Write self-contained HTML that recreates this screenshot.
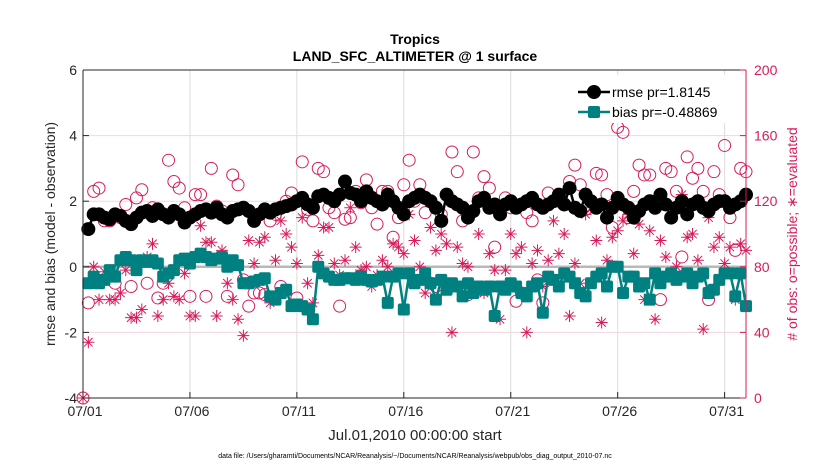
<!DOCTYPE html>
<html><head><meta charset="utf-8"><style>
body{margin:0;background:#fff;font-family:"Liberation Sans",sans-serif}
</style></head><body>
<svg width="830" height="470" xmlns="http://www.w3.org/2000/svg" font-family="Liberation Sans, sans-serif">
<g id="grid"></g>
<g id="marks"></g>
<g id="axes"></g>
</svg>
<script>
const rmse=[null,1.15,1.6,1.6,1.5,1.45,1.6,1.55,1.4,1.3,1.5,1.65,1.7,1.55,1.75,1.6,1.5,1.7,1.6,1.35,1.5,1.6,1.7,1.75,1.65,1.8,1.6,1.5,1.7,1.75,1.8,1.7,1.4,1.6,1.75,1.65,1.75,1.8,1.85,1.9,2.0,2.1,1.9,1.8,2.15,2.2,2.1,2.0,2.2,2.6,2.25,2.2,2.0,2.3,2.1,2.0,1.9,2.2,2.0,1.8,1.6,2.0,2.1,2.2,2.1,2.0,1.8,1.4,2.2,2.0,1.9,1.8,1.5,1.7,2.0,2.1,1.8,1.9,1.6,1.9,2.0,1.8,1.9,2.0,2.1,1.9,1.8,1.9,2.0,2.2,1.9,2.4,1.8,1.7,2.2,2.0,1.8,1.9,1.5,1.8,2.1,1.9,1.8,1.5,1.7,1.9,2.0,1.8,2.2,1.9,1.5,1.8,2.0,1.6,1.9,2.0,1.8,1.7,1.9,2.0,2.0,1.8,1.9,2.0,2.2];
const bias=[null,-0.5,-0.3,-0.5,-0.4,-0.1,-0.3,0.2,0.3,0.2,-0.1,0.2,0.15,0.2,0.1,-0.3,-0.2,-0.1,0.2,0.25,0.1,0.3,0.4,0.3,0.2,0.25,0.3,0.0,0.2,0.05,-0.5,-0.5,-0.45,-0.4,-0.35,-0.9,-1.0,-0.8,-0.7,-1.2,-1.15,-1.2,-1.3,-1.6,0.0,-0.2,-0.3,-0.4,-0.4,-0.35,-0.35,-0.4,-0.3,-0.4,-0.45,-0.4,-0.3,-1.1,-0.3,-0.2,-1.3,-0.2,-0.5,-0.4,-0.2,-0.5,-1.0,-0.4,-0.7,-0.5,-0.6,-0.9,-0.5,-0.8,-0.6,-0.7,-0.6,-1.5,-0.6,-0.7,-0.5,-0.6,-0.8,-0.9,-0.6,-0.5,-1.4,-0.3,-0.4,-0.6,-0.2,-0.3,-0.5,-0.8,-0.9,-0.5,-0.3,-0.2,-0.6,0.0,0.0,-0.8,-0.3,-0.3,-0.6,-0.5,-1.0,-0.2,-0.5,-0.3,-0.2,-0.4,-0.3,-0.2,-0.5,-0.3,-0.2,-0.8,-0.7,-0.4,-0.2,-0.2,-0.9,-0.2,-1.2];
const possible=[0,58,126,128,108,108,70,110,118,68,122,127,70,116,61,70,145,132,128,116,62,124,124,62,140,117,114,62,136,130,72,56,64,64,63,108,112,68,120,125,61,144,115,108,140,138,116,113,56,109,110,126,119,133,116,106,126,126,98,110,130,145,120,130,113,70,68,112,124,150,138,108,63,150,122,135,128,92,112,122,116,59,64,113,108,72,58,125,120,120,118,132,142,130,115,120,137,136,124,104,165,162,110,126,142,136,136,120,60,140,138,126,86,147,134,140,126,60,138,124,154,110,90,140,138];
const evaluated=[0,34,80,60,77,60,60,64,78,49,49,54,86,94,50,60,70,62,60,76,50,50,105,95,95,50,90,70,60,48,38,96,82,95,98,58,84,108,100,92,82,110,70,58,87,104,104,82,75,84,116,92,78,80,68,75,84,80,94,92,88,112,96,80,64,104,90,100,94,40,92,82,80,68,100,64,88,78,48,78,100,88,92,40,82,90,68,84,108,88,100,50,82,70,112,116,96,46,84,98,102,108,112,88,106,60,102,48,96,86,110,80,124,98,100,84,42,110,92,98,82,92,60,94,90];
const ytL=[-4,-2,0,2,4,6], ytR=[0,40,80,120,160,200], xt=[0,5,10,15,20,25,30], xtl=['07/01','07/06','07/11','07/16','07/21','07/26','07/31'];
const L=83,R=746,T=70,B=398,XMAX=31;
const X=d=>L+(R-L)*d/XMAX, YL=v=>B-(B-T)*(v+4)/10, YR=v=>B-(B-T)*v/200;
const NS='http://www.w3.org/2000/svg';
function mk(p,t,a){const e=document.createElementNS(NS,t);for(const k in a)e.setAttribute(k,a[k]);p.appendChild(e);return e;}
const g=document.getElementById('grid'),m=document.getElementById('marks'),ax=document.getElementById('axes');
xt.forEach(d=>{const l=mk(g,'line',{x1:X(d),x2:X(d),y1:T,y2:B,stroke:'#dcdcdc','stroke-width':1});

});
ytR.forEach(v=>{const l=mk(g,'line',{x1:L,x2:R,y1:YR(v),y2:YR(v),stroke:'#f3d6df','stroke-width':1});

});
const zl=mk(g,'line',{x1:L,x2:R,y1:YL(0),y2:YL(0),stroke:'#b8b8b8','stroke-width':2.5});


const T0=i=>i*0.25;
// possible circles
possible.forEach((v,i)=>{const c=mk(m,'circle',{cx:X(T0(i)),cy:YR(v),r:6,fill:'none',stroke:'#d81b5a','stroke-width':1});

});
evaluated.forEach((v,i)=>{const x=X(T0(i)),y=YR(v),s=6;const p=mk(m,'path',{d:`M${x-s} ${y}H${x+s}M${x} ${y-s}V${y+s}M${x-4.2} ${y-4.2}L${x+4.2} ${y+4.2}M${x-4.2} ${y+4.2}L${x+4.2} ${y-4.2}`,stroke:'#d81b5a','stroke-width':1,fill:'none'});

});
function line(arr,col,nm){let d='';arr.forEach((v,i)=>{if(v==null)return;d+=(d?'L':'M')+X(T0(i))+' '+YL(v);});const p=mk(m,'path',{d,stroke:col,'stroke-width':2.5,fill:'none'});

}
line(bias,'#008080','bias-line');
bias.forEach((v,i)=>{if(v==null)return;const r=mk(m,'rect',{x:X(T0(i))-6,y:YL(v)-6,width:12,height:12,rx:2,fill:'#008080'});

});
line(rmse,'#000','rmse-line');
rmse.forEach((v,i)=>{if(v==null)return;const c=mk(m,'circle',{cx:X(T0(i)),cy:YL(v),r:7,fill:'#000'});

});
// axes
const fr=mk(ax,'path',{d:`M${L} ${T}V${B}H${R}M${L} ${T}H${R}`,stroke:'#262626',fill:'none','stroke-width':1});


const ra=mk(ax,'line',{x1:R,x2:R,y1:T,y2:B,stroke:'#d81b5a'});


ytL.forEach(v=>{mk(ax,'line',{x1:L,x2:L+6,y1:YL(v),y2:YL(v),stroke:'#262626'});const t=mk(ax,'text',{x:L-6,y:YL(v)+5,'text-anchor':'end','font-size':14,fill:'#262626'});t.textContent=v;

});
ytR.forEach(v=>{mk(ax,'line',{x1:R-6,x2:R,y1:YR(v),y2:YR(v),stroke:'#d81b5a'});const t=mk(ax,'text',{x:R+8,y:YR(v)+5,'font-size':14,fill:'#d81b5a'});t.textContent=v;

});
xt.forEach((d,i)=>{mk(ax,'line',{x1:X(d),x2:X(d),y1:B,y2:B-6,stroke:'#262626'});const t=mk(ax,'text',{x:X(d)+2,y:416,'text-anchor':'middle','font-size':14,fill:'#262626'});t.textContent=xtl[i];

});
</script>
<svg style="position:absolute;left:0;top:0" width="830" height="470" font-family="Liberation Sans, sans-serif">
<text x="415" y="44" text-anchor="middle" font-size="14" font-weight="bold" fill="#000">Tropics</text>
<text x="415" y="61" text-anchor="middle" font-size="14" font-weight="bold" fill="#000">LAND_SFC_ALTIMETER @ 1 surface</text>
<text x="415" y="440" text-anchor="middle" font-size="15" fill="#262626">Jul.01,2010 00:00:00 start</text>
<text transform="translate(55,234) rotate(-90)" text-anchor="middle" font-size="14" fill="#262626">rmse and bias (model - observation)</text>
<text transform="translate(797,234) rotate(-90)" text-anchor="middle" font-size="14" fill="#d81b5a"># of obs: o=possible; ∗=evaluated</text>
<text x="415" y="458" text-anchor="middle" font-size="7" fill="#000">data file: /Users/gharamti/Documents/NCAR/Reanalysis/~/Documents/NCAR/Reanalysis/webpub/obs_diag_output_2010-07.nc</text>
<g>
<rect x="573" y="75" width="170" height="48" fill="#fff"/>
<line x1="578" x2="610" y1="92" y2="92" stroke="#000" stroke-width="2.5"/><circle cx="594" cy="92" r="7" fill="#000"/>
<text x="612" y="97" font-size="14" fill="#000">rmse pr=1.8145</text>
<line x1="578" x2="610" y1="112" y2="112" stroke="#008080" stroke-width="2.5"/><rect x="588" y="106" width="12" height="12" rx="2" fill="#008080"/>
<text x="612" y="117" font-size="14" fill="#000">bias pr=-0.48869</text>
</g>
</svg>
</body></html>
